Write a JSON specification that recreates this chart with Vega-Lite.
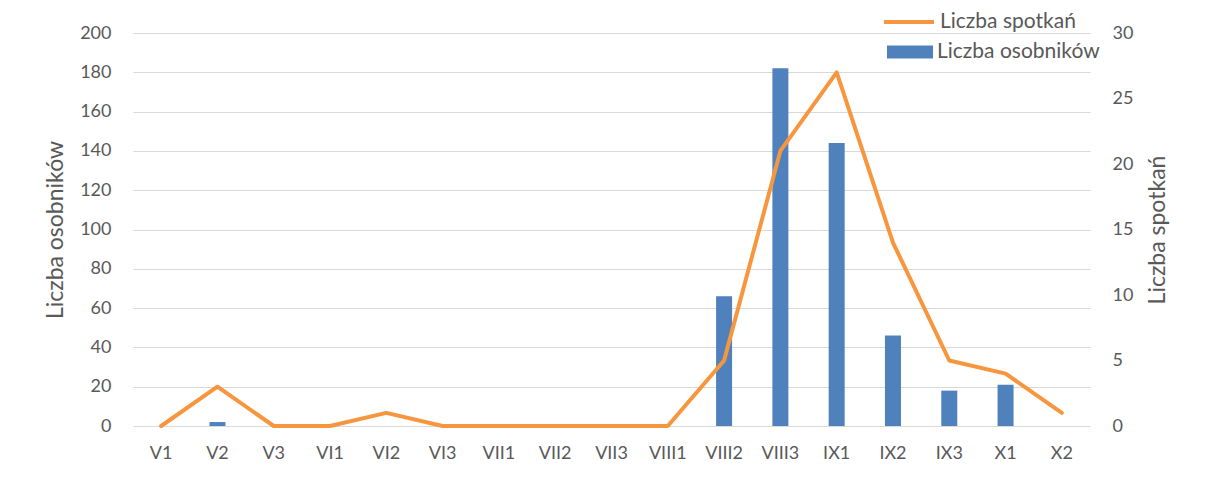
{
  "$schema": "https://vega.github.io/schema/vega-lite/v6.json",
  "width": 957,
  "height": 393,
  "autosize": {"type": "none"},
  "padding": {"left": 133, "top": 33, "right": 118, "bottom": 60},
  "background": "white",
  "config": {
    "view": {"stroke": null},
    "font": "Lato",
    "axis": {"labelFont": "Lato", "labelFontSize": 18, "labelColor": "#595959", "titleFont": "Lato", "titleFontSize": 23, "titleFontWeight": "normal", "titleColor": "#595959", "gridColor": "#d9d9d9", "gridWidth": 1.2, "ticks": false, "domain": false},
    "legend": {"labelFont": "Lato", "labelFontSize": 21, "labelColor": "#595959", "padding": 0, "orient": "none", "labelLimit": 400}
  },
  "data": {"values": [
    {"period": "V1", "osobnikow": 0, "spotkan": 0},
    {"period": "V2", "osobnikow": 2, "spotkan": 3},
    {"period": "V3", "osobnikow": 0, "spotkan": 0},
    {"period": "VI1", "osobnikow": 0, "spotkan": 0},
    {"period": "VI2", "osobnikow": 0, "spotkan": 1},
    {"period": "VI3", "osobnikow": 0, "spotkan": 0},
    {"period": "VII1", "osobnikow": 0, "spotkan": 0},
    {"period": "VII2", "osobnikow": 0, "spotkan": 0},
    {"period": "VII3", "osobnikow": 0, "spotkan": 0},
    {"period": "VIII1", "osobnikow": 0, "spotkan": 0},
    {"period": "VIII2", "osobnikow": 66, "spotkan": 5},
    {"period": "VIII3", "osobnikow": 182, "spotkan": 21},
    {"period": "IX1", "osobnikow": 144, "spotkan": 27},
    {"period": "IX2", "osobnikow": 46, "spotkan": 14},
    {"period": "IX3", "osobnikow": 18, "spotkan": 5},
    {"period": "X1", "osobnikow": 21, "spotkan": 4},
    {"period": "X2", "osobnikow": 0, "spotkan": 1}
  ]},
  "encoding": {
    "x": {"field": "period", "type": "nominal", "sort": null, "title": null,
      "scale": {"type": "band", "paddingInner": 0, "paddingOuter": 0},
      "axis": {"labelAngle": 0, "labelPadding": 18, "grid": false}}
  },
  "layer": [
    {
      "mark": {"type": "bar", "size": 16},
      "encoding": {
        "y": {"field": "osobnikow", "type": "quantitative", "title": "Liczba osobników",
          "scale": {"domain": [0, 200]},
          "axis": {"orient": "left", "values": [0,20,40,60,80,100,120,140,160,180,200], "labelPadding": 22, "titlePadding": 12}},
        "fill": {"datum": "Liczba osobników", "type": "nominal", "scale": {"range": ["#4f81bd"]},
          "legend": {"title": null, "legendX": 754, "legendY": -4, "symbolType": "M-1,-0.28L1,-0.28L1,0.28L-1,0.28Z", "symbolSize": 2116, "symbolStrokeWidth": 0, "labelOffset": 4}}
      }
    },
    {
      "mark": {"type": "line", "strokeWidth": 4, "strokeJoin": "round", "strokeCap": "round"},
      "encoding": {
        "y": {"field": "spotkan", "type": "quantitative", "title": "Liczba spotkań",
          "scale": {"domain": [0, 30]},
          "axis": {"orient": "right", "values": [0,5,10,15,20,25,30], "grid": false, "labelPadding": 22, "titlePadding": 14, "titleAngle": 270, "titleBaseline": "top"}},
        "stroke": {"datum": "Liczba spotkań", "type": "nominal", "scale": {"range": ["#f7963e"]},
          "legend": {"title": null, "legendX": 749, "legendY": -38, "symbolType": "stroke", "symbolSize": 2500, "symbolStrokeWidth": 4, "labelOffset": 4}}
      }
    }
  ],
  "resolve": {"scale": {"y": "independent", "fill": "independent", "stroke": "independent"}}
}
